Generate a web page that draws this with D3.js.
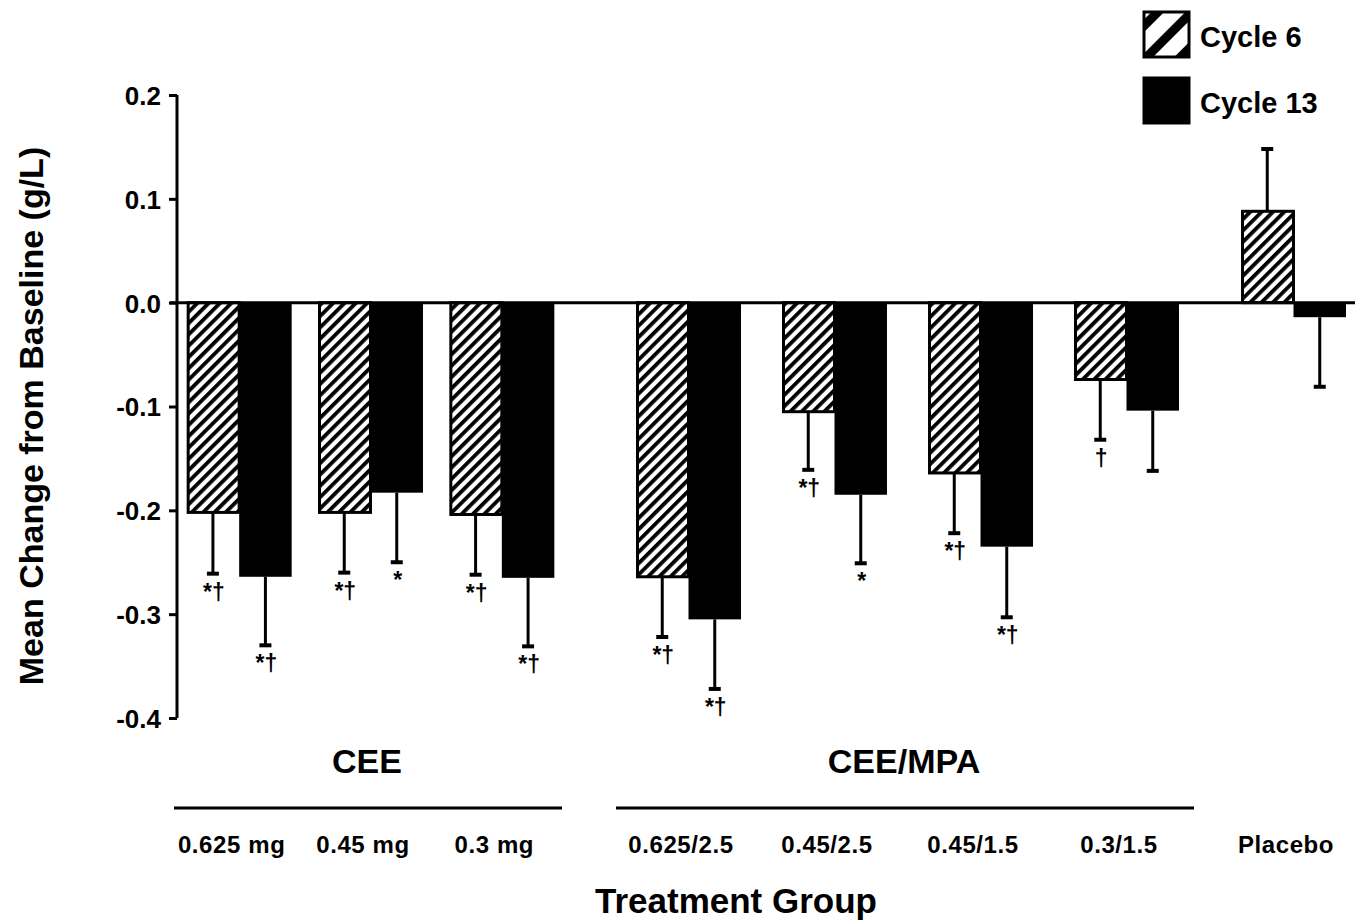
<!DOCTYPE html>
<html>
<head>
<meta charset="utf-8">
<script src="https://cdn.jsdelivr.net/npm/d3@7"></script>
<style>
  html, body { margin: 0; padding: 0; background: #fff; }
  svg { display: block; }
  text { font-family: "Liberation Sans", Arial, Helvetica, sans-serif; font-weight: bold; fill: #000; }
</style>
</head>
<body>
<svg id="chart" width="1357" height="921"></svg>
<script>
// treatment groups, in drawing order
const categories = ['0.625 mg', '0.45 mg', '0.3 mg', '0.625/2.5', '0.45/2.5', '0.45/1.5', '0.3/1.5', 'Placebo'];
const categorySection = ['CEE', 'CEE', 'CEE', 'CEE/MPA', 'CEE/MPA', 'CEE/MPA', 'CEE/MPA', 'Placebo'];
const sections = ['CEE', 'CEE/MPA', 'Placebo'];
const series = ['Cycle 6', 'Cycle 13'];

// mean change from baseline (g/L)
const cycle6 = [-0.202, -0.202, -0.204, -0.264, -0.105, -0.164, -0.074, 0.088];
const cycle13 = [-0.264, -0.183, -0.265, -0.305, -0.185, -0.235, -0.104, -0.014];
// error bar lengths
const cycle6Err = [0.059, 0.058, 0.058, 0.058, 0.056, 0.058, 0.058, 0.060];
const cycle13Err = [0.066, 0.067, 0.066, 0.067, 0.066, 0.068, 0.058, 0.067];
// significance marks under the error bars
const cycle6Marks = ['*†', '*†', '*†', '*†', '*†', '*†', '†', ''];
const cycle13Marks = ['*†', '*', '*†', '*†', '*', '*†', '', ''];

const yTicks = [0.2, 0.1, 0.0, -0.1, -0.2, -0.3, -0.4];

const svg = d3.select('#chart');

// hatch patterns: fine one for the bars, coarse one for the legend swatch
const defs = svg.append('defs');
defs.append('pattern')
    .attr('id', 'hatch')
    .attr('patternUnits', 'userSpaceOnUse')
    .attr('width', 8).attr('height', 8)
    .attr('patternTransform', 'rotate(45)')
  .append('rect')
    .attr('width', 3.8).attr('height', 8)
    .attr('fill', '#000');
defs.append('pattern')
    .attr('id', 'hatch-big')
    .attr('patternUnits', 'userSpaceOnUse')
    .attr('width', 24).attr('height', 24)
    .attr('patternTransform', 'translate(1143,12) rotate(45)')
  .append('rect')
    .attr('x', 6)
    .attr('width', 9).attr('height', 24)
    .attr('fill', '#000');

const y = d3.scaleLinear()
    .domain([-0.4, 0.2])
    .range([718, 95]);

// each section gets its own stretch of the x axis
const sectionRange = {
    'CEE': [172, 566],
    'CEE/MPA': [614, 1198],
    'Placebo': [1218, 1366]
};
const sectionScales = {};
sections.forEach(s => {
    sectionScales[s] = d3.scaleBand()
        .domain(categories.filter((c, i) => categorySection[i] === s))
        .range(sectionRange[s]);
});
function groupCenter(i) {
    const sc = sectionScales[categorySection[i]];
    return sc(categories[i]) + sc.bandwidth() / 2;
}

const xSub = d3.scaleBand()
    .domain(series)
    .range([-51, 54]);

const rows = categories.map((c, i) => ({
    cat: c,
    i: i,
    bars: [
        { s: 'Cycle 6', v: cycle6[i], err: cycle6Err[i], mark: cycle6Marks[i] },
        { s: 'Cycle 13', v: cycle13[i], err: cycle13Err[i], mark: cycle13Marks[i] }
    ]
}));

const barData = rows.flatMap(r => r.bars.map(b => ({ ...b, cx: groupCenter(r.i) })));

// error bars go away from zero, drawn first so the bar covers the stem
const errG = svg.append('g');
barData.forEach(d => {
    const x = d.cx + xSub(d.s) + xSub.bandwidth() / 2;
    const end = d.v < 0 ? d.v - d.err : d.v + d.err;
    errG.append('line')
        .attr('x1', x).attr('x2', x)
        .attr('y1', y(d.v)).attr('y2', y(end))
        .attr('stroke', '#000').attr('stroke-width', 3);
    errG.append('line')
        .attr('x1', x - 6).attr('x2', x + 6)
        .attr('y1', y(end)).attr('y2', y(end))
        .attr('stroke', '#000').attr('stroke-width', 4);
    if (d.mark) {
        errG.append('text')
            .attr('x', x + 1)
            .attr('y', y(end) + 26)
            .attr('text-anchor', 'middle')
            .attr('font-size', 23)
            .text(d.mark);
    }
});

svg.append('g')
  .selectAll('rect')
  .data(barData)
  .enter()
  .append('rect')
    .attr('x', d => d.cx + xSub(d.s) + (d.s === 'Cycle 6' ? 1.5 : 0))
    .attr('width', d => xSub.bandwidth() - (d.s === 'Cycle 6' ? 1.5 : 0))
    .attr('y', d => y(Math.max(0, d.v)))
    .attr('height', d => Math.abs(y(d.v) - y(0)))
    .attr('fill', d => d.s === 'Cycle 6' ? 'url(#hatch)' : '#000')
    .attr('stroke', '#000')
    .attr('stroke-width', d => d.s === 'Cycle 6' ? 3 : 0);

// y axis, plain hyphen for negatives like the original
const yAxis = d3.axisLeft(y)
    .tickValues(yTicks)
    .tickFormat(d => d.toFixed(1))
    .tickSize(8)
    .tickPadding(8);
const yG = svg.append('g')
    .attr('transform', 'translate(177,0)')
    .call(yAxis);
yG.select('.domain').attr('stroke-width', 3).attr('d', 'M0,' + y(0.2) + 'V' + y(-0.4));
yG.selectAll('.tick line').attr('stroke-width', 3);
yG.selectAll('.tick text')
    .attr('font-size', 26)
    .attr('font-family', '"Liberation Sans", Arial, sans-serif')
    .attr('font-weight', 'bold')
    .attr('dy', '0.36em');

// zero line across the plot
svg.append('line')
    .attr('x1', 170).attr('x2', 1355)
    .attr('y1', y(0)).attr('y2', y(0))
    .attr('stroke', '#000').attr('stroke-width', 3);

svg.append('text')
    .attr('transform', 'translate(43,' + 416 + ') rotate(-90)')
    .attr('text-anchor', 'middle')
    .attr('font-size', 34)
    .text('Mean Change from Baseline (g/L)');

// section titles and their underlines
sections.filter(s => s !== 'Placebo').forEach(s => {
    const [r0, r1] = sectionRange[s];
    svg.append('text')
        .attr('x', (r0 + r1) / 2 - 2)
        .attr('y', 773)
        .attr('text-anchor', 'middle')
        .attr('font-size', 34)
        .text(s);
    svg.append('line')
        .attr('x1', r0 + 2).attr('x2', r1 - 4)
        .attr('y1', 808).attr('y2', 808)
        .attr('stroke', '#000').attr('stroke-width', 3);
});

svg.append('g')
  .selectAll('text')
  .data(categories)
  .enter()
  .append('text')
    .attr('x', (d, i) => groupCenter(i) - 6)
    .attr('y', 853)
    .attr('text-anchor', 'middle')
    .attr('font-size', 24)
    .attr('letter-spacing', 0.6)
    .text(d => d);

svg.append('text')
    .attr('x', 736)
    .attr('y', 913)
    .attr('text-anchor', 'middle')
    .attr('font-size', 35)
    .text('Treatment Group');

// legend
const legend = svg.append('g');
series.forEach((s, i) => {
    const ly = 12 + i * 66;
    legend.append('rect')
        .attr('x', 1144).attr('y', ly)
        .attr('width', 45).attr('height', 45)
        .attr('fill', i === 0 ? 'url(#hatch-big)' : '#000')
        .attr('stroke', '#000').attr('stroke-width', 3);
    legend.append('text')
        .attr('x', 1200)
        .attr('y', ly + 35)
        .attr('font-size', 29)
        .text(s);
});
</script>
</body>
</html>
